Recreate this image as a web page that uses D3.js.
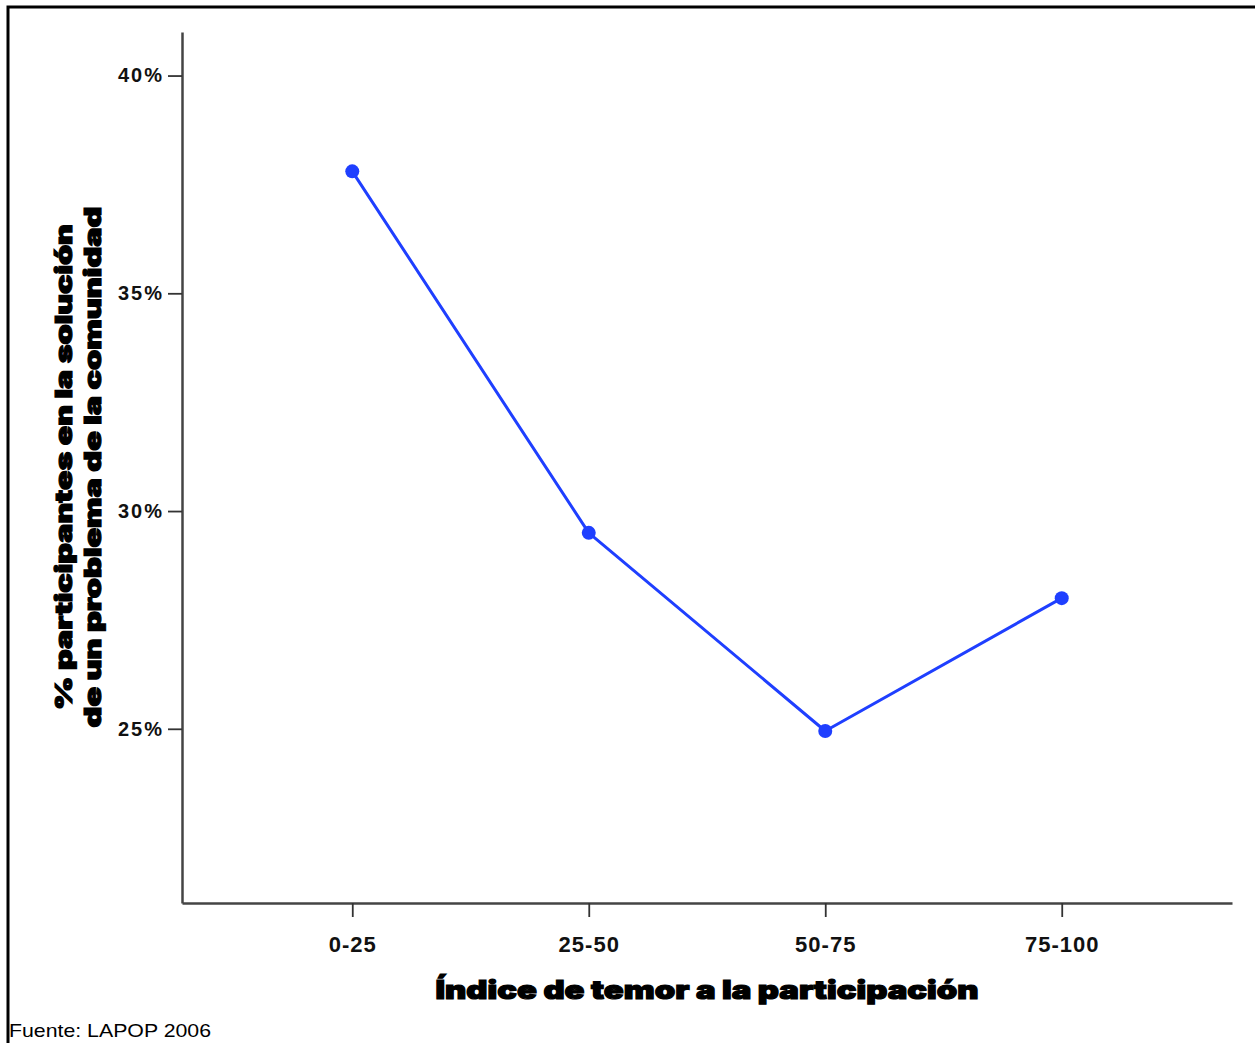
<!DOCTYPE html>
<html>
<head>
<meta charset="utf-8">
<script src="https://cdn.jsdelivr.net/npm/d3@7"></script>
<style>
  html, body { margin: 0; padding: 0; background: #fff; }
  svg { display: block; }
</style>
</head>
<body>
<div id="chart"></div>
<script>
// Participación vs. índice de temor — LAPOP 2006
const categories = ["0-25", "25-50", "50-75", "75-100"];
const values = [37.8, 29.5, 24.95, 28.0];
const yTicks = [25, 30, 35, 40];

const W = 1255, H = 1043;
const X0 = 182, X1 = 1232, Y0 = 903, Y1 = 32;
const BLUE = "#1f3fff";
const HEAVY = "'Arial Black', 'Inter', 'DejaVu Sans', sans-serif";
const BOLD = "Arial, 'Liberation Sans', sans-serif";

const svg = d3.select("#chart").append("svg")
  .attr("width", W).attr("height", H);

// marco exterior (solo arriba e izquierda visibles)
svg.append("path")
  .attr("d", `M8,${H} L8,7 L${W},7`)
  .attr("fill", "none").attr("stroke", "#000").attr("stroke-width", 3);

const x = d3.scalePoint().domain(categories).range([X0, X1]).padding(0.72);
const y = d3.scaleLinear().domain([21, 41]).range([Y0, Y1]);

// eje Y
const gy = svg.append("g").attr("transform", `translate(${X0},0)`)
  .call(d3.axisLeft(y).tickValues(yTicks).tickSizeInner(14).tickSizeOuter(0).tickPadding(4)
    .tickFormat(d => d + "%"));
gy.select(".domain").attr("stroke", "#444").attr("stroke-width", 2.5);
gy.selectAll(".tick line").attr("stroke", "#333").attr("stroke-width", 1.8);
gy.selectAll(".tick text")
  .attr("fill", "#111")
  .style("font", `bold 20px ${BOLD}`)
  .style("letter-spacing", "2px");

// eje X
const gx = svg.append("g").attr("transform", `translate(0,${Y0})`)
  .call(d3.axisBottom(x).tickSizeInner(14).tickSizeOuter(0).tickPadding(19));
gx.select(".domain").attr("stroke", "#444").attr("stroke-width", 2.5);
gx.selectAll(".tick line").attr("stroke", "#333").attr("stroke-width", 1.8);
gx.selectAll(".tick text")
  .attr("fill", "#111")
  .style("font", `bold 22px ${BOLD}`)
  .style("letter-spacing", "1px");

// línea + puntos
const pts = categories.map((c, i) => [x(c), y(values[i])]);
svg.append("path")
  .attr("d", d3.line()(pts))
  .attr("fill", "none").attr("stroke", BLUE).attr("stroke-width", 3)
  .attr("stroke-linejoin", "round");
svg.append("g").selectAll("circle").data(pts).join("circle")
  .attr("cx", d => d[0]).attr("cy", d => d[1]).attr("r", 7)
  .attr("fill", BLUE);

// títulos de ejes
svg.append("text")
  .attr("x", 707).attr("y", 999).attr("text-anchor", "middle")
  .attr("textLength", 543).attr("lengthAdjust", "spacingAndGlyphs")
  .style("font", `900 26px ${HEAVY}`).attr("fill", "#000")
  .attr("stroke", "#000").attr("stroke-width", 1.2)
  .text("Índice de temor a la participación");

const yl = svg.append("g").attr("transform", "translate(0,467) rotate(-90)");
yl.append("text")
  .attr("x", 0).attr("y", 72).attr("text-anchor", "middle")
  .attr("textLength", 486).attr("lengthAdjust", "spacingAndGlyphs")
  .style("font", `900 23px ${HEAVY}`).attr("fill", "#000")
  .attr("stroke", "#000").attr("stroke-width", 1.1)
  .text("% participantes en la solución");
yl.append("text")
  .attr("x", 0).attr("y", 101).attr("text-anchor", "middle")
  .attr("textLength", 521).attr("lengthAdjust", "spacingAndGlyphs")
  .style("font", `900 23px ${HEAVY}`).attr("fill", "#000")
  .attr("stroke", "#000").attr("stroke-width", 1.1)
  .text("de un problema de la comunidad");

// fuente
svg.append("text")
  .attr("x", 9).attr("y", 1037)
  .attr("textLength", 202).attr("lengthAdjust", "spacingAndGlyphs")
  .style("font", "19px 'Liberation Sans Narrow', Arial, sans-serif")
  .attr("fill", "#000")
  .text("Fuente: LAPOP 2006");
</script>
</body>
</html>
